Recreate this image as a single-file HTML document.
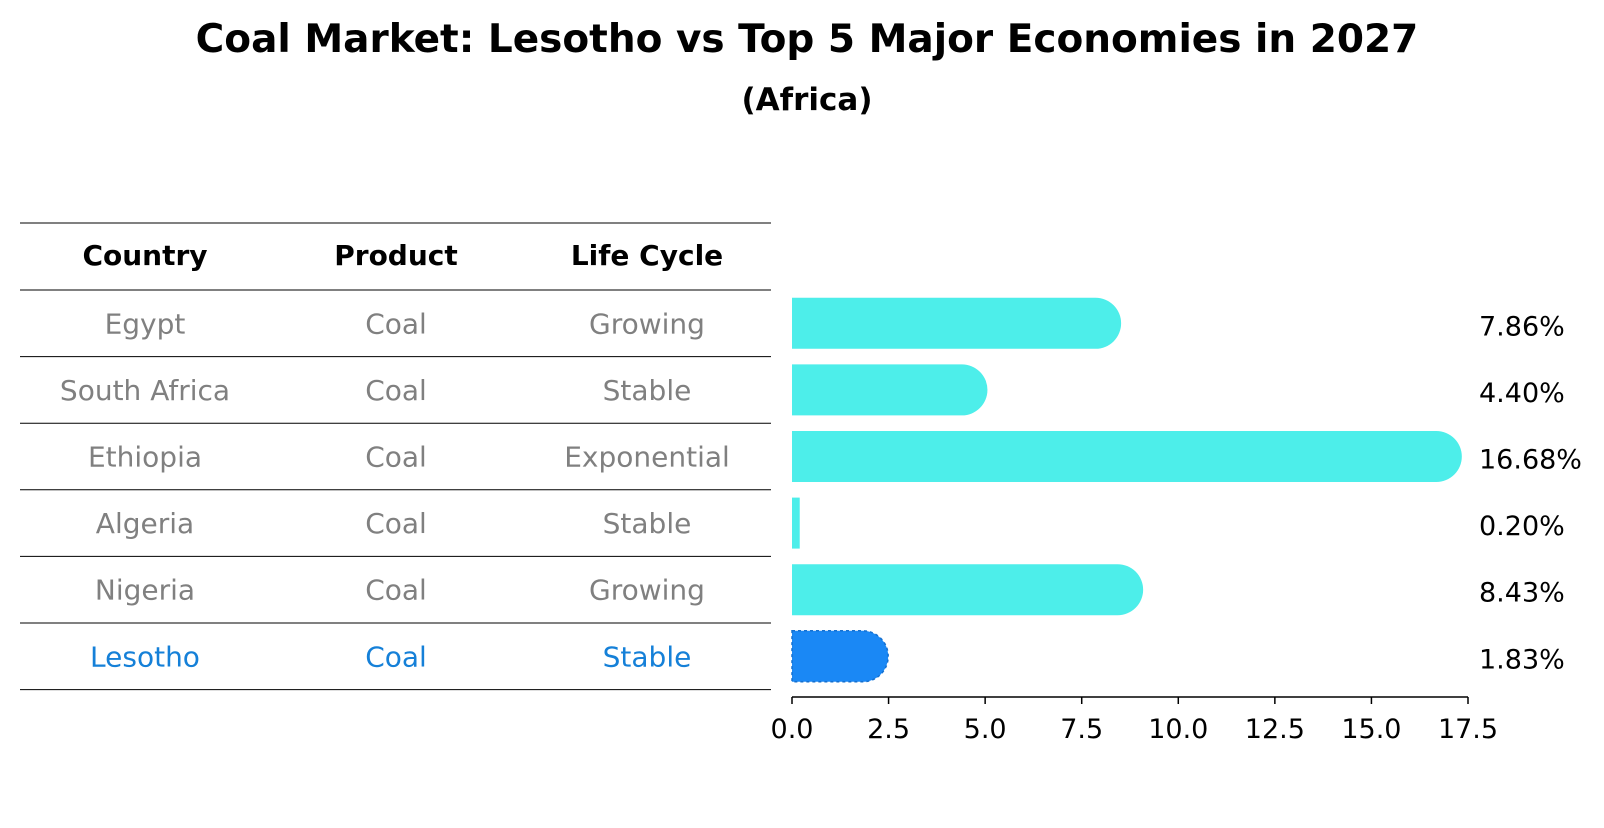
<!DOCTYPE html>
<html><head><meta charset="utf-8"><style>
body{margin:0;background:#fff;font-family:"Liberation Sans","DejaVu Sans",sans-serif}
</style></head><body>
<svg width="1604" height="823" xmlns="http://www.w3.org/2000/svg" font-family="DejaVu Sans, Liberation Sans, sans-serif">
<text x="807" y="52" text-anchor="middle" font-size="39" font-weight="bold">Coal Market: Lesotho vs Top 5 Major Economies in 2027</text>
<text x="807" y="110" text-anchor="middle" font-size="31" font-weight="bold">(Africa)</text>
<g id="table"></g>
<g id="bars"></g>
<g id="axis"></g>
</svg>
<script>
const countries=["Egypt","South Africa","Ethiopia","Algeria","Nigeria","Lesotho"];
const products=["Coal","Coal","Coal","Coal","Coal","Coal"];
const lifecycles=["Growing","Stable","Exponential","Stable","Growing","Stable"];
const values=[7.86,4.40,16.68,0.20,8.43,1.83];
const ticks=[0,2.5,5,7.5,10,12.5,15,17.5];
const NS="http://www.w3.org/2000/svg";
const x0=792,x1=1468,xmax=17.5;
const xs=v=>x0+(v/xmax)*(x1-x0);
const rowTop=290,rowH=66.6,barH=51;
const yc=i=>rowTop+rowH*(i+0.5);
function mk(tag,attrs,parent){const e=document.createElementNS(NS,tag);for(const k in attrs)e.setAttribute(k,attrs[k]);parent.appendChild(e);return e;}
const tb=document.getElementById('table'),bg=document.getElementById('bars'),ax=document.getElementById('axis');
const colX=[145,396,647];
for(let j=0;j<3;j++){const t=mk('text',{x:colX[j],y:265,'text-anchor':'middle','font-size':28,'font-weight':'bold'},tb);t.textContent=["Country","Product","Life Cycle"][j];

}
const lines=[223,290];for(let i=1;i<=countries.length;i++)lines.push(rowTop+rowH*i);
lines.forEach(y=>{const l=mk('line',{x1:20,x2:771,y1:y,y2:y,stroke:'#000','stroke-width':1},tb);

});
countries.forEach((c,i)=>{
  const hl=c==="Lesotho";const col=hl?'#1580d8':'#808080';
  [c,products[i],lifecycles[i]].forEach((s,j)=>{const t=mk('text',{x:colX[j],y:yc(i)+10,'text-anchor':'middle','font-size':28,fill:col},tb);t.textContent=s;
  
  });
  const v=values[i],fill=hl?'#1a88f5':'#4deeea';
  const w=xs(v)-x0,r=barH/2;
  let p;
  if(v>=1){const xe=xs(v);const y0=yc(i)-r,y1=yc(i)+r;
    p=mk('path',{d:`M${x0},${y0}H${xe}A${r},${r} 0 0 1 ${xe},${y1}H${x0}Z`,fill:fill},bg);}
  else p=mk('rect',{x:x0,y:yc(i)-r,width:w,height:barH,fill:fill},bg);
  if(hl){p.setAttribute('stroke','#1570d0');p.setAttribute('stroke-dasharray','3,3');p.setAttribute('stroke-width','1.5');}
  
  
  const t=mk('text',{x:1479,y:yc(i)+12,'font-size':27},bg);t.textContent=v.toFixed(2)+'%';
  
  
});
const l=mk('line',{x1:x0,x2:x1,y1:697,y2:697,stroke:'#000','stroke-width':1.5},ax);


ticks.forEach(t=>{const x=xs(t);const tk=mk('line',{x1:x,x2:x,y1:697,y2:704,stroke:'#000','stroke-width':1.5},ax);


const tx=mk('text',{x:x,y:738,'text-anchor':'middle','font-size':27},ax);tx.textContent=t.toFixed(1);

});
</script>
</body></html>
